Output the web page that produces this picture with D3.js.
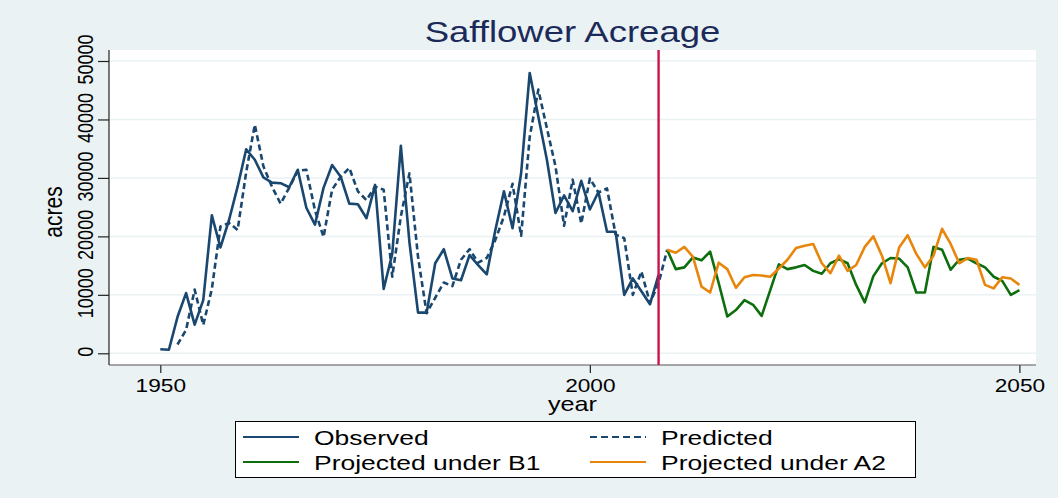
<!DOCTYPE html>
<html>
<head>
<meta charset="utf-8">
<script src="https://cdn.jsdelivr.net/npm/d3@7"></script>
<style>
  body { margin: 0; background: #eaf2f3; }
  svg text { font-family: "Liberation Sans", Arial, sans-serif; }
</style>
</head>
<body>
<div id="chart"></div>
<script>
// years on the x axis
const obsYears = d3.range(1950, 2009);
const predYears = d3.range(1952, 2010);
const projYears = d3.range(2009, 2051);

// acres
const observed = [700, 600, 6200, 10300, 4900, 9100, 23600, 18100, 22800, 28500,
  34900, 33100, 30100, 29200, 29100, 28400, 31400, 24900, 22000, 28300,
  32200, 30200, 25600, 25500, 23100, 28800, 11000, 17000, 35500, 19000,
  6950, 6950, 15400, 17800, 12800, 12500, 16800, 15100, 13500, 21100,
  27700, 21400, 30800, 47950, 40500, 33100, 24000, 27000, 24300, 29500,
  24600, 27600, 20800, 20800, 10000, 12800, 10600, 8400, 13400];

const predicted = [1500, 4000, 10900, 4850, 11000, 21700, 22300, 21100,
  31000, 39100, 32000, 28500, 25600, 28300, 31200, 31400, 24500, 19900,
  28000, 30200, 31700, 27700, 26200, 28500, 28000, 13100, 23400, 30800,
  16500, 6850, 9500, 12100, 11500, 16000, 17800, 15500, 16300, 19400,
  23400, 29000, 20100, 37000, 45100, 38500, 32000, 21800, 29700, 22200,
  29900, 27500, 28200, 20300, 19700, 10000, 14000, 8600, 12000, 17700];

const projB1 = [17700, 14400, 14700, 16400, 15900, 17400, 12000, 6300, 7400, 9100,
  8300, 6400, 10800, 15200, 14400, 14700, 15100, 14100, 13600, 15400,
  16100, 15400, 11700, 8700, 13200, 15400, 16300, 16200, 14700, 10400,
  10400, 18200, 17700, 14300, 16000, 16200, 15400, 14700, 13100, 12400,
  10000, 10800];

const projA2 = [17700, 17200, 18200, 16500, 11400, 10400, 15500, 14400, 11200, 13000,
  13400, 13300, 13100, 14500, 16000, 18000, 18400, 18700, 15400, 13700,
  16700, 14100, 15100, 18200, 20000, 16700, 12000, 18100, 20200, 17000,
  14700, 16700, 21300, 18700, 15400, 16300, 16000, 11700, 11100, 13000,
  12800, 11700];

const cutYear = 2008;
const xTicks = [1950, 2000, 2050];
const yTicks = [0, 10000, 20000, 30000, 40000, 50000];

const legendNames = ["Observed", "Predicted", "Projected under B1", "Projected under A2"];
const legendColors = ["#1a476f", "#1a476f", "#0d6e0d", "#e8860c"];
const legendDash = [null, "7,4", null, null];

// the source picture is stretched sideways, text gets the same stretch
const SX = 1.26;
const width = 1058, height = 498;
const plot = {left: 109, top: 50, right: 1036, bottom: 365};

const svg = d3.select("#chart").append("svg")
  .attr("width", width)
  .attr("height", height);

svg.append("rect")
  .attr("width", width)
  .attr("height", height)
  .attr("fill", "#eaf2f3");

const x = d3.scaleLinear()
  .domain([1950, 2050])
  .range([160.3, 1019.4]);

const y = d3.scaleLinear()
  .domain([0, 50000])
  .range([353.3, 61]);

// plot region
svg.append("rect")
  .attr("x", plot.left)
  .attr("y", plot.top)
  .attr("width", plot.right - plot.left)
  .attr("height", plot.bottom - plot.top)
  .attr("fill", "white");

// grid
svg.append("g")
  .selectAll("line")
  .data(yTicks)
  .enter()
  .append("line")
    .attr("x1", plot.left)
    .attr("x2", plot.right)
    .attr("y1", d => y(d))
    .attr("y2", d => y(d))
    .attr("stroke", "#eaf2f3")
    .attr("stroke-width", 1.5);

// title
svg.append("text")
  .attr("transform", "translate(" + (plot.left + plot.right) / 2 + ",42) scale(" + SX + ",1)")
  .attr("text-anchor", "middle")
  .attr("fill", "#1c2a5a")
  .style("font-size", "29px")
  .text("Safflower Acreage");

// x axis
const xAxis = svg.append("g")
  .attr("transform", "translate(0," + plot.bottom + ")")
  .call(d3.axisBottom(x).tickValues(xTicks).tickSize(8).tickFormat(d3.format("d")));
xAxis.select(".domain").remove();
xAxis.selectAll(".tick line").attr("stroke", "#222").attr("stroke-width", 1.2);
xAxis.selectAll(".tick text")
  .attr("y", 27)
  .attr("dy", null)
  .attr("transform", "scale(" + SX + ",1)")
  .attr("fill", "black")
  .style("font-size", "18px");

// y axis
const yAxis = svg.append("g")
  .attr("transform", "translate(" + plot.left + ",0)")
  .call(d3.axisLeft(y).tickValues(yTicks).tickSize(11).tickFormat(d3.format("d")));
yAxis.select(".domain").remove();
yAxis.selectAll(".tick line").attr("stroke", "#222").attr("stroke-width", 1.2);
yAxis.selectAll(".tick text")
  .attr("x", null)
  .attr("dy", null)
  .attr("transform", "translate(-16,-2) scale(" + SX + ",1) rotate(-90)")
  .attr("text-anchor", "middle")
  .attr("fill", "black")
  .style("font-size", "18px");

// axis lines
svg.append("line")
  .attr("x1", plot.left).attr("x2", plot.left)
  .attr("y1", plot.top).attr("y2", plot.bottom)
  .attr("stroke", "#222").attr("stroke-width", 1.2);
svg.append("line")
  .attr("x1", plot.left).attr("x2", plot.right)
  .attr("y1", plot.bottom).attr("y2", plot.bottom)
  .attr("stroke", "#555").attr("stroke-width", 1.2);

// axis titles
svg.append("text")
  .attr("transform", "translate(" + (plot.left + plot.right) / 2 + ",411) scale(" + SX + ",1)")
  .attr("text-anchor", "middle")
  .attr("fill", "black")
  .style("font-size", "20px")
  .text("year");

svg.append("text")
  .attr("transform", "translate(62,212) scale(" + SX + ",1) rotate(-90)")
  .attr("text-anchor", "middle")
  .attr("fill", "black")
  .style("font-size", "21px")
  .text("acres");

// series
const line = d3.line()
  .x(d => x(d[0]))
  .y(d => y(d[1]));

const series = [
  {years: obsYears, values: observed, color: legendColors[0], dash: legendDash[0]},
  {years: predYears, values: predicted, color: legendColors[1], dash: legendDash[1]},
  {years: projYears, values: projB1, color: legendColors[2], dash: legendDash[2]},
  {years: projYears, values: projA2, color: legendColors[3], dash: legendDash[3]}
];

svg.append("g")
  .selectAll("path")
  .data(series)
  .enter()
  .append("path")
    .attr("d", s => line(s.years.map((yr, i) => [yr, s.values[i]])))
    .attr("fill", "none")
    .attr("stroke", s => s.color)
    .attr("stroke-width", 2.6)
    .attr("stroke-linejoin", "round")
    .attr("stroke-dasharray", s => s.dash ? "6,3.5" : null);

// cut-off line
svg.append("line")
  .attr("x1", x(cutYear)).attr("x2", x(cutYear))
  .attr("y1", plot.top).attr("y2", plot.bottom)
  .attr("stroke", "#c8164a")
  .attr("stroke-width", 2.4);

// legend
const legend = svg.append("g");
legend.append("rect")
  .attr("x", 235.5)
  .attr("y", 421.5)
  .attr("width", 680)
  .attr("height", 56)
  .attr("fill", "white")
  .attr("stroke", "black")
  .attr("stroke-width", 1);

const colX = [243, 590];
const rowY = [437, 462];

const items = legend.selectAll("g.item")
  .data(legendNames)
  .enter()
  .append("g")
    .attr("class", "item")
    .attr("transform", (d, i) => "translate(" + colX[i % 2] + "," + rowY[Math.floor(i / 2)] + ")");

items.append("line")
  .attr("x1", 0)
  .attr("x2", 56)
  .attr("stroke", (d, i) => legendColors[i])
  .attr("stroke-width", 2)
  .attr("stroke-dasharray", (d, i) => legendDash[i]);

items.append("text")
  .attr("transform", "translate(71,7.5) scale(" + SX + ",1)")
  .attr("fill", "black")
  .style("font-size", "21px")
  .text(d => d);
</script>
</body>
</html>
